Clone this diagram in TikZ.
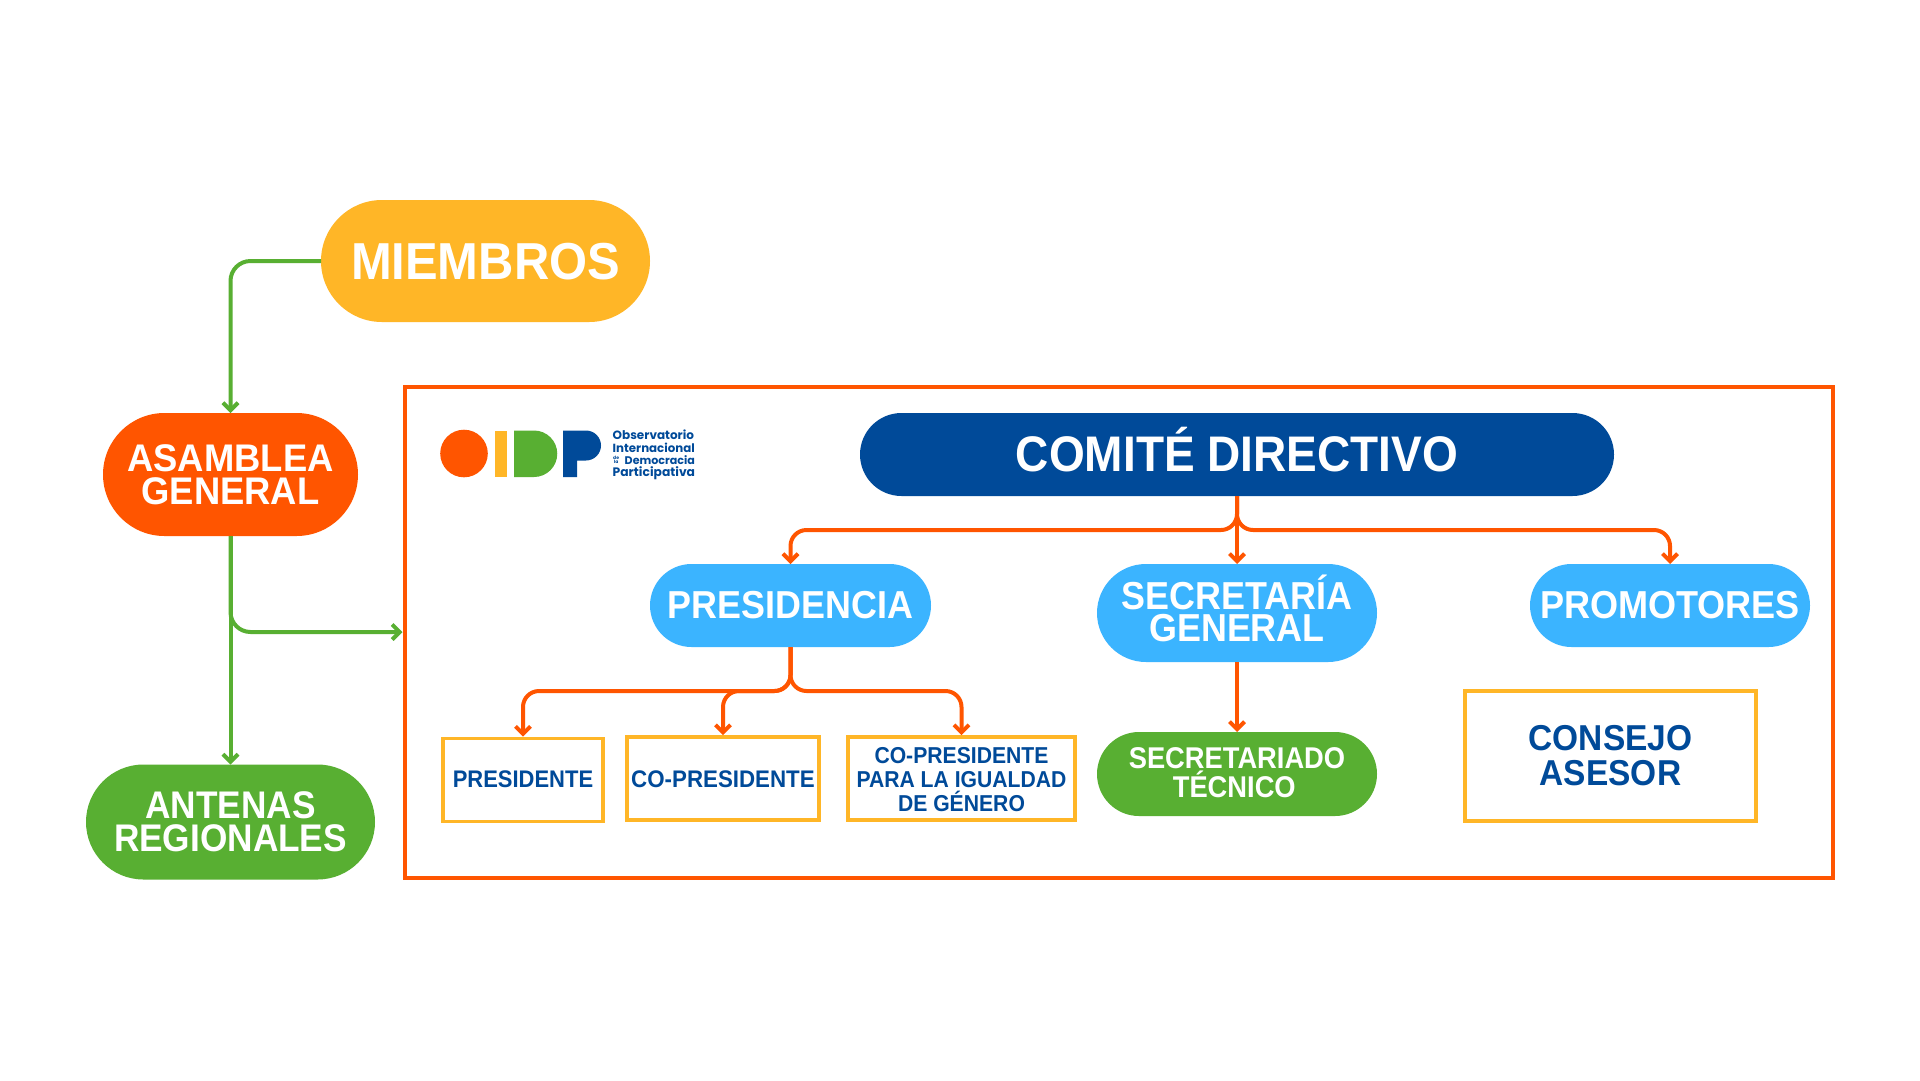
\documentclass[tikz,border=0pt]{standalone}
\usepackage{fontspec}
\usepackage{graphicx}
\setmainfont{Liberation Sans}
\newfontfamily\logofont{Poppins}
\usetikzlibrary{arrows.meta,shapes.misc}
\definecolor{oOrange}{HTML}{FF5500}
\definecolor{oYellow}{HTML}{FFB627}
\definecolor{oGreen}{HTML}{58AF32}
\definecolor{oBlue}{HTML}{004A99}
\definecolor{oSky}{HTML}{3BB4FF}
% Label: x-stretch, size, line pitch, line count, extra drop below centre, text.
% The box has no height, so the shape is sized by its own keys alone.
\newcommand\lbl[6]{%
  \pgfmathsetlengthmacro{\lbldrop}{-0.358*#2+(#4-1)*#3/2-#5}%
  \raisebox{0pt}[0pt][0pt]{\raisebox{\lbldrop}{\scalebox{#1}[1]{\fontsize{#2}{#3}\selectfont\bfseries
    \vtop{\baselineskip=#3pt\lineskiplimit=-1000pt\lineskip=0pt\let\\\cr
      \halign{\hfil##\hfil\cr #6\crcr}}}}}}
\tikzset{
  pill/.style={rounded rectangle,fill=#1,text=white,inner sep=0pt,outer sep=0pt},
  post/.style={rectangle,draw=oYellow,line width=3.6pt,fill=white,text=oBlue,inner sep=0pt},
  gline/.style={draw=oGreen,line width=4pt,rounded corners=20pt,
    -{Straight Barb[length=7.5pt,width=15pt]}},
  oline/.style={draw=oOrange,line width=4pt,rounded corners=16pt,
    -{Straight Barb[length=7.5pt,width=15pt]}},
  logotext/.style={anchor=west,inner sep=0pt,text=oBlue,font=\logofont\bfseries\fontsize{12}{12}\selectfont}
}
\begin{document}
\begin{tikzpicture}[x=1pt,y=-1pt]
\useasboundingbox (0,0) rectangle (1920,1080);
\fill[white] (0,0) rectangle (1920,1080);

% Outer frame of the steering committee
\node[rectangle,draw=oOrange,line width=4pt,minimum width=1428pt,minimum height=491pt] (frame) at (1118.5,632) {};

% Left column
\node[pill=oYellow,minimum width=329pt,minimum height=122pt] (miembros) at (485.5,261)
  {\lbl{0.94}{52}{52}{1}{0}{MIEMBROS}};
\node[pill=oOrange,minimum width=255pt,minimum height=123pt] (asamblea) at (230.5,474.5)
  {\lbl{0.945}{38.5}{33}{2}{0}{ASAMBLEA\\GENERAL}};
\node[pill=oGreen,minimum width=289pt,minimum height=115pt] (antenas) at (230.5,822)
  {\lbl{0.915}{38.5}{33}{2}{-1}{ANTENAS\\REGIONALES}};

% Committee and its three branches
\node[pill=oBlue,minimum width=754pt,minimum height=83pt] (comite) at (1237,454.5)
  {\lbl{0.92}{50}{50}{1}{-1}{COMITÉ DIRECTIVO}};
\node[pill=oSky,minimum width=281pt,minimum height=83pt] (presidencia) at (790.5,605.5)
  {\lbl{0.92}{39}{39}{1}{-1}{PRESIDENCIA}};
\node[pill=oSky,minimum width=280pt,minimum height=98pt] (secretaria) at (1237,613)
  {\lbl{0.92}{39}{32}{2}{-1.5}{SECRETARÍA\\GENERAL}};
\node[pill=oSky,minimum width=280pt,minimum height=83pt] (promotores) at (1670,605.5)
  {\lbl{0.925}{39}{39}{1}{-1}{PROMOTORES}};
\node[pill=oGreen,minimum width=280pt,minimum height=84pt] (tecnico) at (1237,774)
  {\lbl{0.91}{30}{29.5}{2}{-2}{SECRETARIADO\\TÉCNICO\kern6pt}};

% Officers and advisory council
\node[post,minimum width=160pt,minimum height=83pt] (presidente) at (523,780)
  {\lbl{0.915}{24}{24}{1}{-1.5}{PRESIDENTE}};
\node[post,minimum width=192pt,minimum height=83pt] (copresidente) at (723,778.5)
  {\lbl{0.93}{24}{24}{1}{0}{CO-PRESIDENTE}};
\node[post,minimum width=227pt,minimum height=83pt] (igualdad) at (961.5,778.5)
  {\lbl{0.92}{23}{24}{3}{1}{CO-PRESIDENTE\\PARA LA IGUALDAD\\DE GÉNERO}};
\node[post,minimum width=291pt,minimum height=130pt] (consejo) at (1610.5,756)
  {\lbl{0.93}{36}{35.5}{2}{-1}{CONSEJO\\ASESOR}};

% Logo marks
\fill[oOrange] (464,453.5) circle[radius=23.8];
\fill[oYellow] (495,430.5) rectangle (506.5,477);
\fill[oGreen] (514,430.5) -- (534,430.5) arc[start angle=-90,end angle=90,radius=23.25] -- (514,477) -- cycle;
\fill[oBlue] (563,430.5) -- (586,430.5) arc[start angle=-90,end angle=90,radius=15] -- (577,460.5) -- (577,477) -- (563,477) -- cycle;
\node[logotext] (logoA) at (612.5,435) {Observatorio};
\node[logotext,font=\logofont\bfseries\fontsize{11.8}{12}\selectfont] (logoB) at (612.5,447.7) {Internacional};
\node[logotext,font=\logofont\bfseries\fontsize{11.1}{12}\selectfont] (logoC) at (624.5,460) {Democracia};
\node[logotext,font=\logofont\bfseries\fontsize{4.5}{4.5}\selectfont,align=center] (logoD) at (613,460) {de\\la};
\node[logotext,font=\logofont\bfseries\fontsize{12.3}{12}\selectfont] (logoE) at (612.5,473) {Participativa};

% Left column connectors
\draw[gline] (miembros.west) -| (asamblea.north);
\draw[gline] (asamblea.south) -- (antenas.north);
\draw[gline] (asamblea.south) |- (frame.west);

% Committee connectors
\coordinate (busA) at (1237,530);
\draw[oline] (comite.south) |- (presidencia.north |- busA) -- (presidencia.north);
\draw[oline] (comite.south) -- (secretaria.north);
\draw[oline] (comite.south) |- (promotores.north |- busA) -- (promotores.north);
\draw[oline] (secretaria.south) -- (tecnico.north);

% Presidency connectors
\coordinate (busB) at (790.5,691);
\draw[oline] (presidencia.south) |- (presidente.north |- busB) -- (presidente.north);
\draw[oline] (presidencia.south) |- (copresidente.north |- busB) -- (copresidente.north);
\draw[oline] (presidencia.south) |- (igualdad.north |- busB) -- (igualdad.north);
\end{tikzpicture}
\end{document}
